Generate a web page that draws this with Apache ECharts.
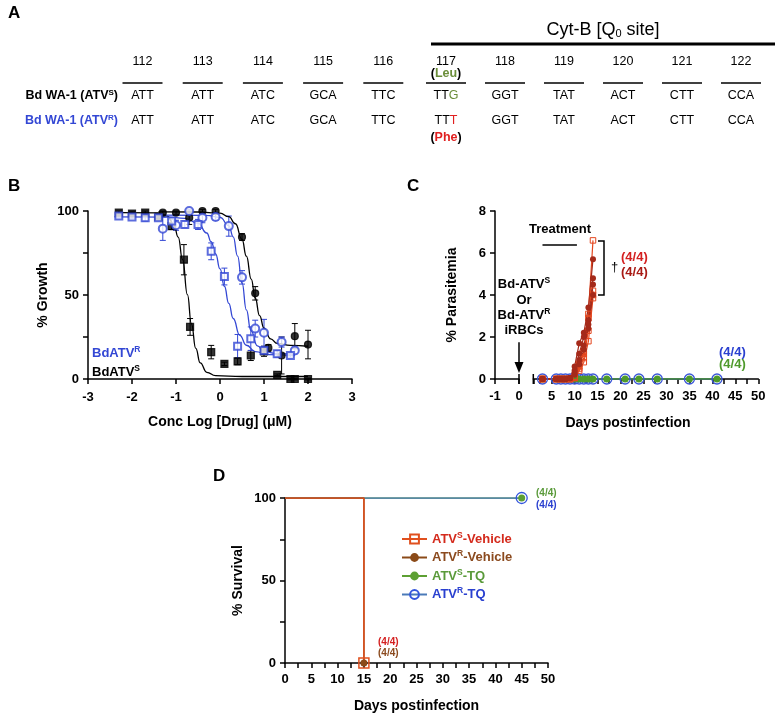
<!DOCTYPE html>
<html>
<head>
<meta charset="utf-8">
<script src="https://cdn.jsdelivr.net/npm/echarts@6/dist/echarts.min.js"></script>
<style>
  html, body { margin: 0; padding: 0; background: #fff; }
  #main { width: 777px; height: 714px; }
</style>
</head>
<body>
<div id="main"></div>
<script>
var FONT = '"Liberation Sans", Arial, Helvetica, sans-serif';
var BLUE = '#3347d4';
var CLEAR = 'rgba(0,0,0,0)';

// ---------- panel A : codon table ----------
var codonNums = ['112', '113', '114', '115', '116', '117', '118', '119', '120', '121', '122'];
var codonsS = ['ATT', 'ATT', 'ATC', 'GCA', 'TTC', 'TTG', 'GGT', 'TAT', 'ACT', 'CTT', 'CCA'];
var codonsR = ['ATT', 'ATT', 'ATC', 'GCA', 'TTC', 'TTT', 'GGT', 'TAT', 'ACT', 'CTT', 'CCA'];
var mutIndex = 5;

// ---------- panel B : dose response, [log conc, % growth, SD] ----------
var ptsSSquare = [[-2.3, 99, 1], [-2.0, 98.5, 1], [-1.7, 99, 1], [-1.4, 96.5, 1], [-1.1, 91, 2],
  [-0.82, 71, 9], [-0.68, 31, 5], [-0.2, 16, 4], [0.1, 9, 1], [0.4, 10.5, 2], [0.7, 14, 3],
  [1.0, 16.5, 3], [1.3, 2.5, 0.5], [1.6, 0, 0.5], [1.7, 0, 0.5], [2.0, 0, 0.5]];
var ptsSCircle = [[-1.3, 99, 1], [-1.0, 99, 1], [-0.7, 96, 4], [-0.4, 100, 1], [-0.1, 100, 1],
  [0.5, 84.5, 2], [0.8, 51, 4], [1.1, 18.5, 2], [1.4, 14, 11], [1.7, 25.5, 7.5], [2.0, 20.5, 8.5]];
var ptsRCircle = [[-1.3, 89.5, 7], [-1.0, 91.5, 3], [-0.7, 100, 1], [-0.4, 96, 3], [-0.1, 96.5, 2],
  [0.2, 91, 6], [0.5, 60.5, 4], [0.8, 30, 5], [1.0, 27.5, 8], [1.4, 22, 3], [1.7, 17, 2]];
var ptsRSquare = [[-2.3, 97, 1], [-2.0, 96.5, 1], [-1.7, 96, 2], [-1.4, 96, 1], [-1.1, 94, 1],
  [-0.8, 92, 2], [-0.5, 92, 3], [-0.2, 76, 5], [0.1, 61, 5], [0.4, 19.5, 7], [0.7, 24, 7],
  [1.0, 17, 2], [1.3, 15, 2], [1.6, 14, 1]];
// fitted curves
var fitSSquare = [[-2.3, 99], [-1.4, 98.9], [-1.2, 96.9], [-1.05, 92.1], [-0.95, 84.5], [-0.85, 71],
  [-0.74, 50.2], [-0.65, 32.9], [-0.55, 18.2], [-0.45, 9.6], [-0.3, 4], [-0.1, 2], [0.5, 1.5], [2.0, 1.5]];
var fitSCircle = [[-1.4, 99.5], [-0.5, 99.4], [0.0, 98.7], [0.2, 96.6], [0.35, 92.4], [0.5, 83.1],
  [0.6, 73.1], [0.71, 59.5], [0.8, 48.2], [0.9, 37.7], [1.0, 30.2], [1.15, 23.9], [1.3, 21.2], [1.6, 20], [2.0, 19.5]];
var fitRCircle = [[-1.4, 97.5], [-0.3, 97.4], [0.0, 96.2], [0.2, 91.3], [0.3, 84.6], [0.4, 73.1],
  [0.5, 57.2], [0.6, 41.1], [0.7, 29], [0.85, 19.7], [1.0, 16.4], [1.3, 15.1], [1.7, 15]];
var fitRSquare = [[-2.4, 96.5], [-1.2, 96.4], [-0.8, 95.6], [-0.5, 92.7], [-0.3, 86.9], [-0.2, 81.7],
  [-0.1, 74.5], [0.0, 65.5], [0.1, 55.2], [0.2, 45], [0.3, 36], [0.45, 26], [0.6, 20.1], [0.8, 16.3],
  [1.1, 14.5], [1.7, 14]];

// ---------- panel C : parasitemia per mouse ----------
var vehDays = [3, 6, 7, 8, 9, 10, 11, 12, 13, 14];
var atvSVehicle = [
  [0, 0, 0, 0, 0, 0.1, 0.6, 1.3, 3.1, 6.6],
  [0, 0, 0, 0, 0, 0.05, 0.5, 1.0, 2.3, 4.2],
  [0, 0, 0, 0, 0, 0.05, 0.4, 0.8, 1.8, 3.85],
  [0, 0, 0, 0, 0, 0.1, 0.7, 1.2, 2.9, 4.0]
];
var atvRVehicle = [
  [0, 0, 0, 0, 0.05, 0.6, 1.7, 2.2, 3.4, 5.7],
  [0, 0, 0, 0, 0.05, 0.4, 1.2, 2.0, 2.8, 4.8],
  [0, 0, 0, 0, 0.03, 0.3, 0.9, 1.6, 2.4, 4.5],
  [0, 0, 0, 0, 0.04, 0.2, 0.7, 1.4, 2.6, 4.0]
];
var tqDays = [3, 6, 7, 8, 9, 10, 11, 12, 13, 14, 17, 21, 24, 28, 35, 41];
var atvSTQ = [0, 0, 0, 0, 0, 0, 0, 0, 0, 0, 0, 0, 0, 0, 0, 0];
var atvRTQ = [0, 0, 0, 0, 0, 0, 0, 0, 0, 0, 0, 0, 0, 0, 0, 0];
var treatDays = [3, 10.5];
var cTickValues = [1, 2.5, 5, 7.5, 10, 12.5, 15, 17.5, 20, 22.5, 25, 27.5, 30, 32.5, 35, 37.5, 40, 42.5, 45, 47.5, 50];
var cLabelValues = [5, 10, 15, 20, 25, 30, 35, 40, 45, 50];

// ---------- panel D : survival ----------
var survVehDays = [0, 15, 15];
var survVehPct = [100, 100, 0];
var survTQDays = [0, 45];
var survTQPct = [100, 100];

// ---------- helpers ----------
var elements = [];
function addText(x, y, text, size, bold, color, align, rich) {
  elements.push({
    type: 'text', x: x, y: y, silent: true,
    style: {
      text: text, fill: color || '#000',
      font: (bold ? 'bold ' : '') + size + 'px ' + FONT,
      textAlign: align || 'left', textVerticalAlign: 'middle',
      rich: rich
    }
  });
}
function addLine(x1, y1, x2, y2, w) {
  elements.push({ type: 'line', silent: true, shape: { x1: x1, y1: y1, x2: x2, y2: y2 },
    style: { stroke: '#000', lineWidth: w } });
}
function tok(size, bold, color, extra) {
  var o = { fontSize: size, fontWeight: bold ? 'bold' : 'normal', fontFamily: FONT, fill: color };
  for (var k in extra) o[k] = extra[k];
  return o;
}
function colX(i) { return i < 5 ? 142.5 + i * 60.2 : 446 + (i - 5) * 59; }
function pairs(xs, ys) { return xs.map(function (x, i) { return [x, ys[i]]; }); }

// panel A
addText(8, 13, 'A', 17, true, '#000');
addText(603, 30, '{t|Cyt-B [Q}{s|0}{t| site]}', 18, false, '#000', 'center', {
  t: tok(18, false, '#000'), s: tok(11, false, '#000', { padding: [8, 0, 0, 0] })
});
addLine(431, 44, 775, 44, 3);
codonNums.forEach(function (n, i) {
  var x = colX(i);
  addText(x, 62, n, 12.5, false, '#000', 'center');
  addLine(x - 20, 83, x + 20, 83, 1.5);
  if (i === mutIndex) {
    addText(x, 96, '{n|' + codonsS[i].slice(0, 2) + '}{g|' + codonsS[i].charAt(2) + '}', 12.5, false, '#000', 'center',
      { n: tok(12.5, false, '#000'), g: tok(12.5, false, '#6b8e3a') });
    addText(x, 121, '{n|' + codonsR[i].slice(0, 2) + '}{r|' + codonsR[i].charAt(2) + '}', 12.5, false, '#000', 'center',
      { n: tok(12.5, false, '#000'), r: tok(12.5, false, '#e02020') });
  } else {
    addText(x, 96, codonsS[i], 12.5, false, '#000', 'center');
    addText(x, 121, codonsR[i], 12.5, false, '#000', 'center');
  }
});
addText(colX(mutIndex), 74, '{p|(}{g|Leu}{p|)}', 12.5, true, '#000', 'center',
  { p: tok(12.5, true, '#000'), g: tok(12.5, true, '#6b8e3a') });
addText(colX(mutIndex), 138, '{p|(}{r|Phe}{p|)}', 12.5, true, '#000', 'center',
  { p: tok(12.5, true, '#000'), r: tok(12.5, true, '#e02020') });
addText(118, 96, '{b|Bd WA-1 (ATV}{s|S}{b|)}', 12.5, true, '#000', 'right',
  { b: tok(12.5, true, '#000'), s: tok(8, true, '#000', { padding: [0, 0, 7, 0] }) });
addText(118, 121, '{b|Bd WA-1 (ATV}{s|R}{b|)}', 12.5, true, BLUE, 'right',
  { b: tok(12.5, true, BLUE), s: tok(8, true, BLUE, { padding: [0, 0, 7, 0] }) });

// panel B labels
addText(8, 186, 'B', 17, true, '#000');
addText(92, 353, '{b|BdATV}{s|R}', 13, true, BLUE, 'left',
  { b: tok(13, true, BLUE), s: tok(8.5, true, BLUE, { padding: [0, 0, 7, 0] }) });
addText(92, 372, '{b|BdATV}{s|S}', 13, true, '#000', 'left',
  { b: tok(13, true, '#000'), s: tok(8.5, true, '#000', { padding: [0, 0, 7, 0] }) });

// panel C labels
addText(407, 186, 'C', 17, true, '#000');
addText(560, 229, 'Treatment', 13, true, '#000', 'center');
addText(524, 284, '{b|Bd-ATV}{s|S}', 13, true, '#000', 'center',
  { b: tok(13, true, '#000'), s: tok(8.5, true, '#000', { padding: [0, 0, 7, 0] }) });
addText(524, 300, 'Or', 13, true, '#000', 'center');
addText(524, 315, '{b|Bd-ATV}{s|R}', 13, true, '#000', 'center',
  { b: tok(13, true, '#000'), s: tok(8.5, true, '#000', { padding: [0, 0, 7, 0] }) });
addText(524, 330, 'iRBCs', 13, true, '#000', 'center');
elements.push({ type: 'polyline', silent: true, shape: { points: [[598, 241], [604, 241], [604, 295], [598, 295]] },
  style: { stroke: '#000', lineWidth: 1.5, fill: null } });
addText(611, 267, '\u2020', 13, false, '#000');
addText(621, 257, '(4/4)', 13, true, '#d42020');
addText(621, 272, '(4/4)', 13, true, '#a81a14');
addText(719, 352, '(4/4)', 13, true, '#2a40d0');
addText(719, 364, '(4/4)', 13, true, '#4f9a2c');
addText(628, 423, 'Days postinfection', 14, true, '#000', 'center');
addLine(519, 374, 519, 384, 1.5);
addLine(533.3, 374, 533.3, 384, 1.5);

// panel D labels
addText(213, 476, 'D', 17, true, '#000');
addText(536, 493, '(4/4)', 10, true, '#5a9a3a');
addText(536, 505, '(4/4)', 10, true, '#2a40d0');
addText(378, 642, '(4/4)', 10, true, '#d42020');
addText(378, 653, '(4/4)', 10, true, '#8b4a1e');

// ---------- axes ----------
function mkAxis(o) {
  var base = {
    type: 'value',
    axisLine: { show: true, onZero: false, lineStyle: { color: '#000', width: 1.5 } },
    axisTick: { show: true, length: 5, lineStyle: { color: '#000', width: 1.5 } },
    axisLabel: { color: '#000', fontWeight: 'bold', fontSize: 13, fontFamily: FONT, margin: 9 },
    splitLine: { show: false },
    nameTextStyle: { color: '#000', fontWeight: 'bold', fontSize: 14, fontFamily: FONT },
    nameLocation: 'middle'
  };
  for (var k in o) {
    if (typeof o[k] === 'object' && base[k] && !Array.isArray(o[k])) {
      for (var j in o[k]) base[k][j] = o[k][j];
    } else base[k] = o[k];
  }
  return base;
}
function every50(v) { return v % 50 === 0 ? String(v) : ''; }

var xAxes = [
  mkAxis({ gridIndex: 0, min: -3, max: 3, interval: 1, name: 'Conc Log [Drug] (\u03bcM)', nameGap: 36,
    axisLabel: { margin: 12 } }),
  mkAxis({ gridIndex: 1, min: -1, max: 0, interval: 1, axisLabel: { margin: 11 } }),
  mkAxis({ gridIndex: 2, min: 1, max: 50,
    axisTick: { customValues: cTickValues }, axisLabel: { customValues: cLabelValues, margin: 11 } }),
  mkAxis({ gridIndex: 3, min: 0, max: 50, interval: 5, name: 'Days postinfection', nameGap: 36,
    axisLabel: { margin: 10 },
    minorTick: { show: true, splitNumber: 2, length: 5, lineStyle: { color: '#000', width: 1.5 } } })
];
var yAxes = [
  mkAxis({ gridIndex: 0, min: 0, max: 100, interval: 25, name: '% Growth', nameGap: 38,
    axisLabel: { formatter: every50 } }),
  mkAxis({ gridIndex: 1, min: 0, max: 8, interval: 2, name: '% Parasitemia', nameGap: 36 }),
  mkAxis({ gridIndex: 2, min: 0, max: 8, interval: 2, show: false }),
  mkAxis({ gridIndex: 3, min: 0, max: 100, interval: 25, name: '% Survival', nameGap: 40,
    axisLabel: { formatter: every50 } })
];

// ---------- series ----------
var series = [];
function errorBars(data, color) {
  return {
    type: 'custom', xAxisIndex: 0, yAxisIndex: 0, silent: true, z: 1,
    data: data.map(function (d) { return [d[0], d[1] - d[2], d[1] + d[2]]; }),
    encode: { x: 0, y: [1, 2] },
    renderItem: function (params, api) {
      var lo = api.coord([api.value(0), api.value(1)]);
      var hi = api.coord([api.value(0), api.value(2)]);
      var st = { stroke: color, lineWidth: 1 };
      return { type: 'group', children: [
        { type: 'line', shape: { x1: lo[0], y1: lo[1], x2: hi[0], y2: hi[1] }, style: st },
        { type: 'line', shape: { x1: lo[0] - 3, y1: lo[1], x2: lo[0] + 3, y2: lo[1] }, style: st },
        { type: 'line', shape: { x1: hi[0] - 3, y1: hi[1], x2: hi[0] + 3, y2: hi[1] }, style: st }
      ] };
    }
  };
}
[[fitSSquare, '#000'], [fitSCircle, '#000'], [fitRCircle, BLUE], [fitRSquare, BLUE]].forEach(function (f) {
  series.push({ type: 'line', xAxisIndex: 0, yAxisIndex: 0, data: f[0], smooth: true, smoothMonotone: 'x',
    symbol: 'none', silent: true, lineStyle: { color: f[1], width: 1.3 }, z: 2 });
});
[[ptsSSquare, '#000', 'rect', 7], [ptsSCircle, '#000', 'circle', 7],
 [ptsRCircle, BLUE, 'emptyCircle', 8], [ptsRSquare, BLUE, 'emptyRect', 7]].forEach(function (p) {
  series.push(errorBars(p[0], p[1]));
  series.push({ type: 'scatter', xAxisIndex: 0, yAxisIndex: 0, silent: true, z: 3,
    data: p[0].map(function (d) { return [d[0], d[1]]; }),
    symbol: p[2], symbolSize: p[3], itemStyle: { color: p[1], borderColor: p[1], borderWidth: 1.2 } });
});

// panel C annotations tied to the axes
series.push({ type: 'line', xAxisIndex: 1, yAxisIndex: 1, data: [], symbol: 'none', silent: true,
  markLine: { silent: true, symbol: ['none', 'triangle'], symbolSize: [9, 11], animation: false,
    label: { show: false }, lineStyle: { color: '#000', width: 1.5, type: 'solid' },
    data: [[{ coord: [0, 1.75] }, { coord: [0, 0.55] }]] } });
series.push({ type: 'line', xAxisIndex: 2, yAxisIndex: 2, data: [], symbol: 'none', silent: true,
  markLine: { silent: true, symbol: ['none', 'none'], animation: false,
    label: { show: false }, lineStyle: { color: '#000', width: 1.5, type: 'solid' },
    data: [[{ coord: [treatDays[0], 6.4] }, { coord: [treatDays[1], 6.4] }]] } });

series.push({ type: 'line', xAxisIndex: 2, yAxisIndex: 2, data: pairs(tqDays, atvRTQ), silent: true,
  symbol: 'circle', symbolSize: 10, lineStyle: { color: '#3a56d8', width: 1.3 },
  itemStyle: { color: CLEAR, borderColor: '#3a56d8', borderWidth: 1.3 } });
series.push({ type: 'line', xAxisIndex: 2, yAxisIndex: 2, data: pairs(tqDays, atvSTQ), silent: true,
  symbol: 'circle', symbolSize: 7, lineStyle: { color: '#4d9a2a', width: 1.3 },
  itemStyle: { color: '#4d9a2a' } });
atvSVehicle.forEach(function (m) {
  series.push({ type: 'line', xAxisIndex: 2, yAxisIndex: 2, data: pairs(vehDays, m), silent: true,
    symbol: 'rect', symbolSize: 5.5, lineStyle: { color: '#e4471f', width: 1.2 },
    itemStyle: { color: CLEAR, borderColor: '#e4471f', borderWidth: 1 } });
});
atvRVehicle.forEach(function (m) {
  series.push({ type: 'line', xAxisIndex: 2, yAxisIndex: 2, data: pairs(vehDays, m), silent: true,
    symbol: 'circle', symbolSize: 6, lineStyle: { color: '#a52a1a', width: 1.2 },
    itemStyle: { color: '#a52a1a' } });
});

// panel D
function survData(xs, ys) {
  return xs.map(function (x, i) {
    var item = { value: [x, ys[i]] };
    if (i < xs.length - 1) item.symbol = 'none';
    return item;
  });
}
series.push({ name: 'ATVS-TQ', type: 'line', xAxisIndex: 3, yAxisIndex: 3, silent: true,
  data: survData(survTQDays, survTQPct), symbol: 'circle', symbolSize: 7,
  lineStyle: { color: '#5da033', width: 1.5 }, itemStyle: { color: '#5da033' } });
series.push({ name: 'ATVR-TQ', type: 'line', xAxisIndex: 3, yAxisIndex: 3, silent: true,
  data: survData(survTQDays, survTQPct), symbol: 'circle', symbolSize: 11,
  lineStyle: { color: '#4b7ab8', width: 1.5 },
  itemStyle: { color: CLEAR, borderColor: '#3355dd', borderWidth: 1.3 } });
series.push({ name: 'ATVR-Vehicle', type: 'line', xAxisIndex: 3, yAxisIndex: 3, silent: true,
  data: survData(survVehDays, survVehPct), symbol: 'circle', symbolSize: 7,
  lineStyle: { color: '#8b4a18', width: 1.5 }, itemStyle: { color: '#8b4a18' } });
series.push({ name: 'ATVS-Vehicle', type: 'line', xAxisIndex: 3, yAxisIndex: 3, silent: true,
  data: survData(survVehDays, survVehPct), symbol: 'rect', symbolSize: 10,
  lineStyle: { color: '#e0501e', width: 1.5 },
  itemStyle: { color: CLEAR, borderColor: '#e0501e', borderWidth: 1.5 } });

var legendColor = { 'ATVS-Vehicle': 'r', 'ATVR-Vehicle': 'b', 'ATVS-TQ': 'g', 'ATVR-TQ': 'u' };
var legendRich = {};
[['r', '#d42a1c'], ['b', '#8b4a1e'], ['g', '#5a9a3a'], ['u', '#2a40d0']].forEach(function (c) {
  legendRich[c[0]] = { color: c[1], fontSize: 13, fontWeight: 'bold', fontFamily: FONT };
  legendRich[c[0] + 's'] = { color: c[1], fontSize: 8.5, fontWeight: 'bold', fontFamily: FONT, padding: [0, 0, 7, 0] };
});

var chart = echarts.init(document.getElementById('main'), null, { renderer: 'canvas' });
chart.setOption({
  animation: false,
  backgroundColor: '#fff',
  textStyle: { fontFamily: FONT },
  grid: [
    { left: 88, top: 211, width: 264, height: 168 },
    { left: 495, top: 211, width: 24, height: 168 },
    { left: 533.3, top: 211, width: 225, height: 168 },
    { left: 285, top: 498, width: 263, height: 165 }
  ],
  xAxis: xAxes,
  yAxis: yAxes,
  legend: {
    data: ['ATVS-Vehicle', 'ATVR-Vehicle', 'ATVS-TQ', 'ATVR-TQ'],
    orient: 'vertical', left: 401, top: 531, padding: 0,
    itemWidth: 25, itemHeight: 11, itemGap: 4, selectedMode: false,
    formatter: function (name) {
      var k = legendColor[name];
      return '{' + k + '|ATV}{' + k + 's|' + name.charAt(3) + '}{' + k + '|-' + name.slice(5) + '}';
    },
    textStyle: { rich: legendRich }
  },
  graphic: { elements: elements },
  series: series
});
</script>
</body>
</html>
